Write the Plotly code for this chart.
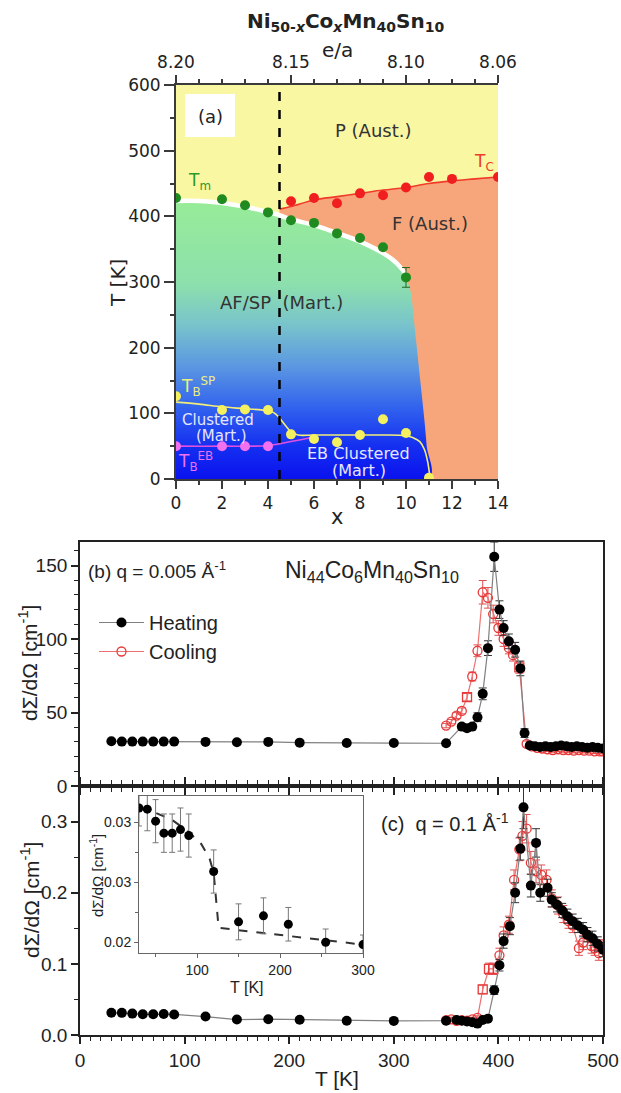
import plotly.graph_objects as go

W, H = 621, 1093


def pp(x, y):
    """Pixel position -> paper coordinates."""
    return x / W, 1 - y / H


def dom_x(a, b):
    return [a / W, b / W]


def dom_y(top, bottom):
    return [1 - bottom / H, 1 - top / H]


# ---------------- (a) phase diagram of Ni50-xCoxMn40Sn10 ----------------
tm_x = [0, 2, 3, 4, 5, 6, 7, 8, 9, 10]
tm_T = [428, 426, 417, 406, 394, 390, 374, 367, 353, 307]
tm_err = [0, 0, 0, 0, 0, 0, 0, 0, 0, 15]

tc_x = [5, 6, 7, 8, 9, 10, 11, 12, 14]
tc_T = [423, 428, 420, 435, 432, 444, 460, 457, 460]

tbsp_x = [0, 2, 3, 4, 5, 6, 7, 8, 9, 10, 11]
tbsp_T = [126, 105, 106, 105, 68, 61, 56, 67, 91, 70, 2]

tbeb_x = [0, 2, 3, 4]
tbeb_T = [50, 50, 50, 50]

# phase boundaries (guide lines)
mart_bound_x = [0, 1, 2, 3, 4, 4.5, 5, 6, 7, 8, 9, 9.5, 10, 10.2, 10.35, 10.5, 10.65, 10.8, 10.9, 11.0]
mart_bound_T = [420, 420, 417, 411, 403, 398, 392, 383, 371, 358, 340, 327, 305, 285, 240, 190, 140, 90, 50, 0]
stripe_n = 13  # white stripe follows the boundary up to x = 10.2

tc_line_x = [4.5, 5, 6, 7, 8, 9, 10, 11, 12, 13, 14]
tc_line_T = [411, 415, 425, 430, 435, 440, 444, 450, 454, 457, 460]

tbsp_line_x = [0, 1, 2, 3, 4, 4.25, 4.5, 4.75, 5, 5.3, 6, 8, 9, 10, 10.3, 10.6, 10.8, 10.95, 11.04]
tbsp_line_T = [117, 114, 110, 107, 104, 101, 93, 82, 72, 67, 67, 67, 67, 66, 63, 57, 45, 25, 2]

tbeb_line_x = [0, 2, 4, 5, 6]
tbeb_line_T = [50, 50, 51, 57, 64]

x_ticks = [0, 2, 4, 6, 8, 10, 12, 14]
ea_tick_x = [0, 5, 10, 14]
ea_tick_text = ["8.20", "8.15", "8.10", "8.06"]
x_border = 4.5

# ---------------- (b) q = 0.005 1/A ----------------
Tb_heat = [30, 40, 50, 60, 70, 80, 90, 120, 150, 180, 210, 255, 300, 350, 365, 370, 375,
           380, 385, 390, 396, 401, 405, 410, 416, 421, 425, 430, 435, 440, 445, 450, 455,
           460, 465, 470, 475, 480, 485, 490, 495, 500]
b_heat = [30.5, 30.2, 30.2, 30.2, 30.2, 30.2, 30.2, 30.0, 29.8, 30.0, 29.5, 29.2, 29.2, 29.1,
          40.4, 39.3, 40.4, 46.8, 62.7, 93.8, 156, 120, 107.5, 98.4, 92.7, 80, 36, 27.5, 27,
          26.5, 27, 26.5, 27, 27.5, 27, 26.5, 27, 26.5, 26, 26.5, 26, 25.5]
b_heat_err = [0, 0, 0, 0, 0, 0, 0, 0, 0, 0, 0, 0, 0, 1, 2, 2, 2, 3, 4, 5, 10, 6, 5, 5, 5, 5,
              3, 1.5, 1.5, 1.5, 1.5, 1.5, 1.5, 1.5, 1.5, 1.5, 1.5, 1.5, 1.5, 1.5, 1.5, 1.5]

Tb_cool = [350, 355, 360, 365, 370, 375, 380, 385, 390, 395, 400, 405, 410, 414, 420, 427,
           432, 437, 442, 447, 452, 457, 462, 467, 472, 477, 482, 487, 492, 497, 500]
b_cool = [41.1, 43.8, 47.9, 51.1, 60.4, 74.5, 92, 131.8, 128, 117, 107.5, 100, 93.9, 89, 80.7,
          28.6, 27, 26, 25.5, 25, 24.5, 25, 24.5, 24.5, 24, 24.5, 24, 24, 23.5, 23.5, 23.5]
b_cool_err = [1.5, 1.5, 2, 2, 2.5, 3, 4, 8, 7, 6, 5, 5, 4, 4, 4, 2, 1.5, 1.5, 1.5, 1.5, 1.5,
              1.5, 1.5, 1.5, 1.5, 1.5, 1.5, 1.5, 1.5, 1.5, 1.5]
b_cool_symbols = ["circle-open"] * 4 + ["square-open"] + ["circle-open"] * 9 + ["square-open"] \
    + ["circle-open"] * 16

# ---------------- (c) q = 0.1 1/A ----------------
Tc_low = [30, 40, 50, 60, 70, 80, 90, 120, 150, 180, 210, 255, 300]
c_low = [0.0312, 0.0311, 0.0301, 0.0291, 0.0291, 0.0294, 0.0289, 0.0259, 0.0217, 0.0222,
         0.0215, 0.0200, 0.0198]
c_low_err = [0.0015, 0.0018, 0.0018, 0.0016, 0.0016, 0.0018, 0.0018, 0.0018, 0.0015, 0.0015,
             0.0014, 0.0011, 0.0008]

Tc_heat_hi = [350, 360, 365, 370, 375, 380, 385, 390, 396, 401, 405, 411, 416, 421, 424, 431,
              436, 440, 447, 451, 456, 461, 466, 471, 476, 481, 485, 490, 495, 500]
c_heat_hi = [0.020, 0.021, 0.020, 0.019, 0.018, 0.016, 0.021, 0.023, 0.063, 0.098, 0.132,
             0.153, 0.200, 0.262, 0.320, 0.210, 0.270, 0.200, 0.207, 0.190, 0.183, 0.175,
             0.167, 0.160, 0.154, 0.148, 0.141, 0.136, 0.128, 0.120]
c_heat_hi_err = [0.003, 0.003, 0.003, 0.003, 0.003, 0.003, 0.003, 0.004, 0.006, 0.008, 0.010,
                 0.012, 0.014, 0.016, 0.030, 0.016, 0.020, 0.012, 0.012, 0.010, 0.010, 0.010,
                 0.010, 0.010, 0.010, 0.010, 0.010, 0.010, 0.010, 0.010]

Tc_cool = [350, 355, 360, 365, 370, 375, 380, 385, 391, 395, 401, 405, 410, 415, 420, 423,
           427, 431, 436, 441, 446, 451, 457, 462, 467, 471, 477, 481, 485, 489, 492, 496, 500]
c_cool = [0.021, 0.022, 0.020, 0.021, 0.020, 0.022, 0.024, 0.064, 0.093, 0.093, 0.112, 0.140,
          0.155, 0.218, 0.261, 0.280, 0.290, 0.242, 0.230, 0.225, 0.218, 0.192, 0.182, 0.170,
          0.160, 0.154, 0.122, 0.130, 0.141, 0.125, 0.122, 0.115, 0.124]
c_cool_err = [0.003] * 7 + [0.006, 0.008, 0.008, 0.010, 0.012, 0.012, 0.014, 0.016, 0.020,
                             0.020, 0.016, 0.016, 0.014, 0.014, 0.012, 0.012, 0.012, 0.010,
                             0.010, 0.010, 0.010, 0.010, 0.010, 0.010, 0.010, 0.010]
c_cool_symbols = ["circle-open"] * 7 + ["square-open"] * 3 + ["circle-open"] * 23

# inset: low temperature part of (c) with guide line
fit_T = [30, 50, 70, 90, 105, 115, 120, 125, 126, 300]
fit_val = [0.0312, 0.0308, 0.0302, 0.0292, 0.0282, 0.0270, 0.0258, 0.0215, 0.0212, 0.0198]
inset_yticks = [0.020, 0.025, 0.030]
inset_ytext = ["0.02", "0.03", "0.03"]

# ---------------- figure ----------------
fig = go.Figure()

AXC = "#3a3a3a"
YELLOW = "#faf7a3"
ORANGE = "#f7a67b"

# (a) regions
fig.add_trace(go.Scatter(
    x=tc_line_x + [14, 4.5], y=tc_line_T + [0, 0], fill="toself", fillcolor=ORANGE,
    mode="lines", line=dict(width=0), hoverinfo="skip", showlegend=False, xaxis="x", yaxis="y"))
fig.add_trace(go.Scatter(
    x=mart_bound_x[:stripe_n], y=mart_bound_T[:stripe_n], mode="lines",
    line=dict(color="white", width=9, shape="spline"), hoverinfo="skip", showlegend=False,
    xaxis="x", yaxis="y"))
fig.add_trace(go.Scatter(
    x=mart_bound_x + [0], y=mart_bound_T + [0], fill="toself",
    fillgradient=dict(type="vertical", start=0, stop=425,
                      colorscale=[[0.0, "#0a12ee"], [0.12, "#1530f0"], [0.25, "#3060ee"],
                                  [0.40, "#5a96e2"], [0.55, "#78c3cc"], [0.70, "#8de0ac"],
                                  [1.0, "#97ec98"]]),
    mode="lines", line=dict(width=0, shape="spline"), hoverinfo="skip", showlegend=False,
    xaxis="x", yaxis="y"))

# (a) guide lines
fig.add_trace(go.Scatter(x=tc_line_x, y=tc_line_T, mode="lines",
                         line=dict(color="#f03a2a", width=1.6, shape="spline"),
                         hoverinfo="skip", showlegend=False, xaxis="x", yaxis="y"))
fig.add_trace(go.Scatter(x=tbsp_line_x, y=tbsp_line_T, mode="lines",
                         line=dict(color="#f2ee7a", width=1.6, shape="spline"),
                         hoverinfo="skip", showlegend=False, xaxis="x", yaxis="y"))
fig.add_trace(go.Scatter(x=tbeb_line_x, y=tbeb_line_T, mode="lines",
                         line=dict(color="#e050e0", width=1.6, shape="spline"),
                         hoverinfo="skip", showlegend=False, xaxis="x", yaxis="y"))

# (a) data points
fig.add_trace(go.Scatter(x=tm_x, y=tm_T, mode="markers",
                         marker=dict(color="#1f8a1f", size=10),
                         error_y=dict(type="data", array=tm_err, color="#1f6a1f", thickness=1, width=4),
                         showlegend=False, xaxis="x", yaxis="y"))
fig.add_trace(go.Scatter(x=tc_x, y=tc_T, mode="markers",
                         marker=dict(color="#f01e1e", size=10),
                         showlegend=False, xaxis="x", yaxis="y"))
fig.add_trace(go.Scatter(x=tbsp_x, y=tbsp_T, mode="markers",
                         marker=dict(color="#f4f060", size=10),
                         showlegend=False, xaxis="x", yaxis="y"))
fig.add_trace(go.Scatter(x=tbeb_x, y=tbeb_T, mode="markers",
                         marker=dict(color="#f070f0", size=10),
                         showlegend=False, xaxis="x", yaxis="y"))
# invisible trace so the e/a axis is drawn
fig.add_trace(go.Scatter(x=[0, 14], y=[0, 0], mode="markers", marker=dict(opacity=0),
                         hoverinfo="skip", showlegend=False, xaxis="x2", yaxis="y"))

# (b)
fig.add_trace(go.Scatter(
    x=Tb_cool, y=b_cool, mode="lines+markers", name="Cooling",
    line=dict(color="#ee7070", width=1.2),
    marker=dict(symbol=b_cool_symbols, color="#e83838", size=9, line=dict(width=1.3)),
    error_y=dict(type="data", array=b_cool_err, color="#e05050", thickness=1, width=4),
    xaxis="x3", yaxis="y3"))
fig.add_trace(go.Scatter(
    x=Tb_heat, y=b_heat, mode="lines+markers", name="Heating",
    line=dict(color="#808080", width=1.2),
    marker=dict(color="black", size=10),
    error_y=dict(type="data", array=b_heat_err, color="#333333", thickness=1, width=4),
    xaxis="x3", yaxis="y3"))

# (c)
fig.add_trace(go.Scatter(
    x=Tc_cool, y=c_cool, mode="lines+markers", showlegend=False,
    line=dict(color="#ee7070", width=1.2),
    marker=dict(symbol=c_cool_symbols, color="#e83838", size=9, line=dict(width=1.3)),
    error_y=dict(type="data", array=c_cool_err, color="#e05050", thickness=1, width=4),
    xaxis="x4", yaxis="y4"))
fig.add_trace(go.Scatter(
    x=Tc_low + Tc_heat_hi, y=c_low + c_heat_hi, mode="lines+markers", showlegend=False,
    line=dict(color="#808080", width=1.2),
    marker=dict(color="black", size=10),
    error_y=dict(type="data", array=[0] * len(Tc_low) + c_heat_hi_err, color="#333333",
                 thickness=1, width=4),
    xaxis="x4", yaxis="y4"))

# inset
fig.add_trace(go.Scatter(x=fit_T, y=fit_val, mode="lines",
                         line=dict(color="#333333", width=2, dash="dash"),
                         hoverinfo="skip", showlegend=False, xaxis="x5", yaxis="y5"))
fig.add_trace(go.Scatter(x=Tc_low, y=c_low, mode="markers",
                         marker=dict(color="black", size=9),
                         error_y=dict(type="data", array=c_low_err, color="#777777",
                                      thickness=1, width=3),
                         showlegend=False, xaxis="x5", yaxis="y5"))

# ---------------- axes ----------------
fa = dict(family="Liberation Sans, Arial, sans-serif", color="#222222")
FA = dict(family="DejaVu Sans, sans-serif", color="#222222")

common_a = dict(showline=True, linecolor=AXC, linewidth=2, ticks="outside", tickcolor=AXC,
                tickwidth=2, ticklen=8, showgrid=False, zeroline=False, automargin=False)
minor_a = dict(ticks="outside", ticklen=4, tickwidth=2, tickcolor=AXC)
fig.update_layout(
    xaxis=dict(domain=dom_x(176, 498), range=[0, 14], tickvals=x_ticks, mirror=False,
               minor=dict(dtick=1, **minor_a),
               tickfont=dict(size=17, **FA), anchor="y", **common_a),
    xaxis2=dict(range=[0, 14], overlaying="x", side="top", anchor="y",
                tickvals=ea_tick_x, ticktext=ea_tick_text,
                minor=dict(dtick=1, **minor_a),
                tickfont=dict(size=17, **FA), **common_a),
    yaxis=dict(domain=dom_y(85, 479), range=[0, 600], dtick=100, anchor="x", mirror=False,
               minor=dict(dtick=50, **minor_a),
               tickfont=dict(size=17, **FA), **common_a),
)
fig.update_yaxes(ticklen=10, selector=dict(anchor="x"))

common_bc = dict(showline=True, linecolor="#222222", linewidth=1.8, ticks="outside",
                 tickcolor="#222222", tickwidth=1.5, ticklen=7, showgrid=False, zeroline=False,
                 automargin=False)
minor_bc = dict(ticks="outside", ticklen=4, tickwidth=1.2, tickcolor="#222")
fig.update_layout(
    xaxis3=dict(domain=dom_x(80, 603), range=[0, 500], dtick=100, showticklabels=False,
                mirror=True, anchor="y3", minor=dict(dtick=10, **minor_bc), **common_bc),
    yaxis3=dict(domain=dom_y(542, 786), range=[0, 166], tickvals=[0, 50, 100, 150],
                mirror=True, anchor="x3", minor=dict(dtick=10, **minor_bc),
                tickfont=dict(size=19, **fa), **common_bc),
    xaxis4=dict(domain=dom_x(80, 603), range=[0, 500], dtick=100, mirror="ticks", anchor="y4",
                minor=dict(dtick=10, **minor_bc), tickfont=dict(size=19, **fa), **common_bc),
    yaxis4=dict(domain=dom_y(786, 1035), range=[0, 0.35], tickvals=[0, 0.1, 0.2, 0.3],
                tickformat=".1f", mirror=True, anchor="x4", minor=dict(dtick=0.05, **minor_bc),
                tickfont=dict(size=19, **fa), **common_bc),
    xaxis5=dict(domain=dom_x(139, 363), range=[30, 300], tickvals=[100, 200, 300],
                anchor="y5", mirror=True, showline=True, linecolor="#666666", linewidth=1,
                ticks="outside", tickcolor="#666666", ticklen=4, showgrid=False, zeroline=False,
                automargin=False,
                minor=dict(dtick=50, ticks="outside", ticklen=3, tickcolor="#666666"),
                tickfont=dict(size=14, **fa)),
    yaxis5=dict(domain=dom_y(796, 953), range=[0.0191, 0.0322], tickvals=inset_yticks,
                ticktext=inset_ytext, anchor="x5", mirror=True, showline=True,
                linecolor="#666666", linewidth=1, ticks="outside", tickcolor="#666666",
                ticklen=4, showgrid=False, zeroline=False, automargin=False,
                minor=dict(dtick=0.0025, ticks="outside", ticklen=3, tickcolor="#666666"),
                tickfont=dict(size=14, **fa)),
)

# ---------------- shapes ----------------
shapes = [
    dict(type="rect", xref="x domain", yref="y domain", x0=0, x1=1, y0=0, y1=1,
         fillcolor=YELLOW, line=dict(width=0), layer="below"),
    dict(type="rect", xref="x5 domain", yref="y5 domain", x0=0, x1=1, y0=0, y1=1,
         fillcolor="white", line=dict(width=0), layer="below"),
    dict(type="line", xref="x", yref="y", x0=x_border, x1=x_border, y0=0, y1=600,
         line=dict(color="black", width=2.5, dash="dash")),
]
x0, y0 = pp(185, 94)
x1, y1 = pp(235, 137)
shapes.append(dict(type="rect", xref="paper", yref="paper", x0=x0, x1=x1, y0=y1, y1=y0,
                   fillcolor="white", line=dict(width=0)))
fig.update_layout(shapes=shapes)

# ---------------- text ----------------
ann = []


def add_text(x, y, text, size, color="#222222", family=None, xanchor="center",
             angle=0, yanchor="middle"):
    px_, py_ = pp(x, y)
    ann.append(dict(x=px_, y=py_, xref="paper", yref="paper", text=text, showarrow=False,
                    xanchor=xanchor, yanchor=yanchor, textangle=angle,
                    font=dict(size=size, color=color,
                              family=family or "Liberation Sans, Arial, sans-serif")))


DJ = "DejaVu Sans, sans-serif"
add_text(345, 22, "<b>Ni<sub>50-<i>x</i></sub>Co<sub><i>x</i></sub>Mn<sub>40</sub>Sn<sub>10</sub></b>",
         20, family=DJ)
add_text(337, 50, "e/a", 20, family=DJ)
add_text(118, 283, "T [K]", 20, family=DJ, angle=-90)
add_text(337, 517, "x", 21, family=DJ)
add_text(210, 116, "(a)", 18, family=DJ)
add_text(373, 131, "P (Aust.)", 18, color="#333333", family=DJ)
add_text(430, 223, "F (Aust.)", 18, color="#333333", family=DJ)
add_text(281, 302, "AF/SP  (Mart.)", 18, color="#333333", family=DJ)
add_text(199, 181, "T<sub>m</sub>", 17, color="#2a9a2a", family=DJ)
add_text(484, 162, "T<sub>C</sub>", 17, color="#f03a2a", family=DJ)
add_text(198, 386, "T<sub>B</sub><sup>SP</sup>", 17, color="#eeee80", family=DJ)
add_text(218, 420, "Clustered", 15, color="#e6e6ff", family=DJ)
add_text(221, 436, "(Mart.)", 15, color="#e6e6ff", family=DJ)
add_text(195, 461, "T<sub>B</sub><sup>EB</sup>", 17, color="#f070f0", family=DJ)
add_text(358, 454, "EB Clustered", 16, color="#e6e6ff", family=DJ)
add_text(359, 470, "(Mart.)", 16, color="#e6e6ff", family=DJ)

add_text(86, 570, "(b) q = 0.005 Å<sup>-1</sup>", 19, xanchor="left")
add_text(283, 571, "Ni<sub>44</sub>Co<sub>6</sub>Mn<sub>40</sub>Sn<sub>10</sub>", 23, xanchor="left")
add_text(379, 822, "(c)  q = 0.1 Å<sup>-1</sup>", 20, xanchor="left")
add_text(28, 663, "dΣ/dΩ [cm<sup>-1</sup>]", 21, angle=-90)
add_text(30, 900, "dΣ/dΩ [cm<sup>-1</sup>]", 21, angle=-90)
add_text(96, 876, "dΣ/dΩ [cm<sup>-1</sup>]", 15, angle=-90)
add_text(247, 987, "T [K]", 16)
add_text(337, 1078, "T [K]", 21)
fig.update_layout(annotations=ann)

fig.update_layout(
    width=W, height=H, margin=dict(l=0, r=0, t=0, b=0, autoexpand=False),
    paper_bgcolor="white", plot_bgcolor="rgba(0,0,0,0)",
    legend=dict(x=94 / W, y=1 - 603 / H, xanchor="left", yanchor="top",
                bgcolor="rgba(0,0,0,0)", font=dict(size=20, family="Liberation Sans, Arial",
                                                    color="#222222"),
                traceorder="reversed", itemwidth=45, tracegroupgap=0),
)

fig.write_html("out.html")
